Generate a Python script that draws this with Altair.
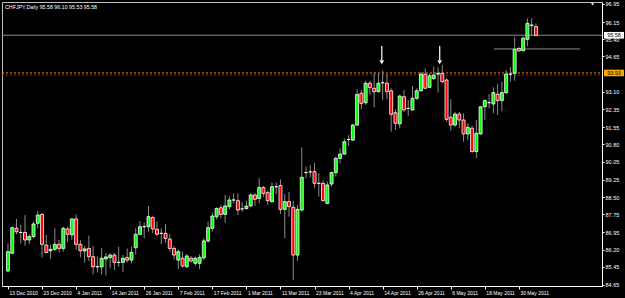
import json
import altair as alt
import pandas as pd

# ---------------- data ----------------
opens = [85.26, 86.04, 87.13, 86.95, 86.95, 86.62, 86.77, 87.35, 87.74, 86.40,
         86.15, 86.21, 86.43, 86.25, 87.10, 86.84, 87.54, 86.43, 86.14, 86.25,
         85.89, 85.45, 85.44, 85.79, 85.85, 85.96, 85.64, 85.64, 85.85, 85.74,
         86.28, 86.87, 87.20, 87.20, 87.60, 87.09, 86.91, 86.91, 86.66, 86.25,
         85.74, 85.82, 85.45, 85.82, 85.60, 85.60, 85.84, 86.58, 87.13, 87.64,
         88.03, 87.74, 88.08, 88.37, 88.34, 87.98, 87.99, 88.11, 88.59, 88.44,
         88.91, 88.69, 88.30, 88.95, 89.00, 87.96, 88.30, 88.05, 85.96, 87.93,
         89.57, 89.60, 89.61, 89.10, 89.10, 88.22, 89.07, 89.57, 90.19, 90.38,
         91.02, 90.99, 91.65, 93.04, 92.63, 93.48, 93.26, 93.11, 93.50, 93.48,
         93.15, 92.19, 91.70, 92.89, 92.38, 92.31, 92.82, 93.15, 93.87, 93.30,
         93.69, 93.88, 93.91, 93.62, 91.99, 91.65, 92.13, 91.87, 91.26, 91.51,
         90.49, 91.26, 92.45, 92.63, 92.57, 93.00, 92.72, 93.07, 93.88, 93.91,
         95.00, 94.90, 95.40, 96.03, 95.96]
highs = [86.47, 87.20, 87.54, 87.28, 87.71, 86.87, 87.42, 87.90, 87.79, 86.84,
         86.40, 87.13, 86.62, 87.20, 87.20, 87.57, 87.74, 86.62, 86.36, 86.81,
         86.36, 85.89, 86.28, 86.04, 86.04, 86.04, 86.33, 85.96, 86.25, 86.33,
         87.13, 87.45, 87.38, 88.11, 87.67, 87.42, 87.13, 87.32, 86.88, 86.36,
         86.21, 86.11, 86.00, 85.92, 85.90, 86.00, 86.70, 87.42, 87.82, 88.05,
         88.15, 88.59, 88.55, 88.66, 88.66, 88.27, 88.34, 88.66, 88.66, 89.32,
         88.99, 88.78, 89.13, 89.13, 89.27, 88.63, 88.73, 88.34, 88.15, 90.67,
         89.83, 89.90, 90.00, 89.54, 89.22, 89.17, 89.61, 90.27, 90.63, 91.06,
         91.21, 91.70, 93.21, 93.18, 93.59, 93.59, 93.94, 93.91, 94.03, 93.88,
         93.26, 92.34, 92.97, 93.18, 92.75, 93.36, 93.26, 93.98, 94.13, 93.91,
         94.21, 94.18, 94.28, 93.69, 92.78, 92.23, 92.23, 92.16, 91.73, 91.61,
         91.87, 92.48, 92.78, 93.01, 93.30, 93.45, 93.55, 94.06, 94.18, 95.49,
         95.08, 95.52, 96.32, 96.32, 96.10]
lows = [85.20, 86.01, 86.87, 86.47, 86.37, 86.43, 86.69, 87.13, 85.85, 86.04,
        85.79, 86.15, 86.07, 86.11, 86.52, 86.62, 86.18, 85.85, 85.63, 85.70,
        85.12, 85.20, 85.12, 85.06, 85.38, 85.31, 85.45, 85.23, 85.64, 85.60,
        85.99, 86.81, 86.69, 86.98, 86.91, 86.81, 86.44, 86.50, 86.11, 85.77,
        85.35, 85.42, 85.40, 85.63, 85.50, 85.35, 85.75, 86.50, 86.98, 87.52,
        87.57, 87.38, 87.96, 88.22, 87.71, 87.86, 87.96, 88.05, 88.11, 88.22,
        88.51, 88.15, 88.22, 88.63, 87.76, 86.69, 87.64, 84.87, 85.71, 87.86,
        89.32, 89.36, 88.88, 88.52, 88.30, 88.19, 88.95, 89.39, 89.98, 90.35,
        90.73, 90.96, 91.61, 92.34, 92.53, 92.97, 92.43, 93.07, 92.75, 92.78,
        91.36, 91.44, 91.51, 92.23, 92.05, 92.28, 92.75, 93.11, 93.21, 93.26,
        93.62, 93.07, 93.48, 91.80, 91.40, 91.58, 91.51, 90.92, 90.99, 90.44,
        90.20, 91.22, 91.87, 92.38, 92.16, 92.09, 92.25, 93.01, 93.55, 93.59,
        94.86, 94.90, 95.10, 95.55, 95.53]
closes = [86.11, 87.16, 86.98, 86.95, 86.62, 86.77, 87.32, 87.71, 86.43, 86.07,
          86.21, 86.43, 86.25, 87.13, 86.87, 87.54, 86.43, 86.15, 86.23, 85.89,
          85.45, 85.45, 85.82, 85.88, 85.96, 85.64, 85.64, 85.82, 85.74, 86.08,
          86.87, 87.20, 87.20, 87.64, 87.10, 86.87, 86.91, 86.69, 86.25, 85.96,
          86.11, 85.48, 85.92, 85.70, 85.82, 85.86, 86.58, 87.16, 87.67, 88.00,
          87.74, 88.11, 88.37, 88.37, 87.93, 87.98, 88.10, 88.59, 88.40, 88.92,
          88.66, 88.34, 88.95, 88.95, 87.96, 88.30, 88.08, 85.96, 87.96, 89.36,
          89.57, 89.60, 89.10, 89.10, 88.34, 89.03, 89.57, 90.19, 90.38, 90.92,
          91.02, 91.65, 92.99, 92.60, 93.48, 93.29, 93.11, 93.48, 93.50, 93.11,
          92.12, 91.73, 92.92, 92.31, 92.38, 92.82, 93.15, 93.88, 93.26, 93.80,
          93.84, 93.91, 93.55, 91.90, 91.65, 92.13, 91.87, 91.26, 91.55, 90.49,
          91.29, 92.45, 92.72, 92.63, 93.07, 92.72, 93.07, 93.88, 93.88, 94.96,
          94.90, 95.45, 96.10, 96.00, 95.58]

date_labels = ["13 Dec 2010", "23 Dec 2010", "4 Jan 2011", "14 Jan 2011",
               "26 Jan 2011", "7 Feb 2011", "17 Feb 2011", "1 Mar 2011",
               "11 Mar 2011", "23 Mar 2011", "4 Apr 2011", "14 Apr 2011",
               "26 Apr 2011", "6 May 2011", "18 May 2011", "30 May 2011"]
date_bars = [0, 8, 16, 24, 32, 40, 48, 56, 64, 72, 80, 88, 96, 104, 112, 120]
# the 93.85 tick label sits under the orange price box in the reference
price_ticks = [84.65, 85.45, 86.20, 86.95, 87.75, 88.50, 89.25, 90.05, 90.80,
               91.55, 92.35, 93.10, 94.65, 95.40, 96.15, 96.95]

title_text = "CHFJPY,Daily  95.58 96.10 95.53 95.58"

bid_price = 95.58
orange_level = 93.93
red_level = 93.83
seg_price = 94.98
seg_from, seg_to = 114.1, 134.4

arrow_bars = [87.8, 101.4]
arrow_top = [95.11, 95.11]
arrow_bottom = [94.50, 94.50]
arrow_head = [94.40, 94.40]

shift_marker_bar = [137.3]
shift_marker_price = [96.93]

# ---------------- build ----------------
n = len(opens)
df = pd.DataFrame({"bar": list(range(n)), "open": opens, "high": highs,
                   "low": lows, "close": closes})
df["dir"] = ["up" if c > o else ("down" if c < o else "flat")
             for o, c in zip(opens, closes)]

FONT = "Liberation Sans"
xscale = alt.Scale(domain=[-0.231, 138.34], nice=False, zero=False)
yscale = alt.Scale(domain=[84.606, 97.035], nice=False, zero=False)

label_array = json.dumps(date_labels)
xaxis = alt.Axis(values=date_bars, labelExpr=f"{label_array}[round(datum.value/8)]",
                 labelAlign="left", labelPadding=1, labelFontSize=5, labelColor="white",
                 labelFont=FONT, tickColor="white", tickSize=3, domainColor="white",
                 grid=False, title=None, labelFlush=False, labelOverlap=False,
                 labelOffset=1)
yaxis = alt.Axis(orient="right", values=price_ticks, format=".2f", labelFontSize=5.5,
                 labelColor="white", labelFont=FONT, tickColor="white", tickSize=2,
                 labelPadding=1, domainColor="white", grid=False, title=None,
                 labelOverlap=False, labelFlush=False)

X = alt.X("bar:Q", scale=xscale, axis=xaxis)


def Y(field):
    return alt.Y(f"{field}:Q", scale=yscale, axis=yaxis)


base = alt.Chart(df)

wicks = base.mark_rule(color="#8c8c8c", strokeWidth=1).encode(
    x=X, y=Y("low"), y2="high:Q")


def body_layer(kind, colour):
    return base.transform_filter(alt.datum.dir == kind).mark_bar(
        width=3, stroke="white", strokeWidth=0.8, fill=colour).encode(
        x=X, y=Y("open"), y2="close:Q")


bodies_up = body_layer("up", "#00ff00")
bodies_down = body_layer("down", "#ff0000")
bodies_flat = body_layer("flat", "#ffffff")


def hline(price, colour, dash=None):
    kw = dict(color=colour, strokeWidth=1)
    if dash:
        kw["strokeDash"] = dash
    return alt.Chart(pd.DataFrame({"price": [price]})).mark_rule(**kw).encode(
        x=alt.value(0), x2=alt.value(600), y=Y("price"))


bid_line = hline(bid_price, "#8a8a8a")
orange_line = hline(orange_level, "#ff8c00", [2, 2])
red_line = hline(red_level, "#e00000", [2, 2])

seg_df = pd.DataFrame({"price": [seg_price], "x1": [seg_from], "x2": [seg_to]})
segment = alt.Chart(seg_df).mark_rule(color="#8a8a8a", strokeWidth=1).encode(
    x=alt.X("x1:Q", scale=xscale, axis=xaxis), x2="x2:Q", y=Y("price"))

arr_df = pd.DataFrame({"bar": arrow_bars, "top": arrow_top, "bottom": arrow_bottom,
                       "head": arrow_head})
arrow_shaft = alt.Chart(arr_df).mark_rule(color="white", strokeWidth=1.2).encode(
    x=X, y=Y("top"), y2="bottom:Q")
arrow_tip = alt.Chart(arr_df).mark_point(shape="triangle-down", filled=True,
                                          color="white", size=22, opacity=1).encode(
    x=X, y=Y("head"))

shift_df = pd.DataFrame({"bar": shift_marker_bar, "price": shift_marker_price})
shift_marker = alt.Chart(shift_df).mark_point(shape="triangle-down", filled=True,
                                               color="#d0d0d0", size=10, opacity=1).encode(
    x=X, y=Y("price"))

box_shape = "M-1,-0.33L1,-0.33L1,0.33L-1,0.33Z"


def price_box(price, colour):
    d = pd.DataFrame({"price": [price], "label": [f"{price:.2f}"]})
    box = alt.Chart(d).mark_point(shape=box_shape, filled=True, size=400, opacity=1,
                                  strokeWidth=0, fill=colour).encode(
        x=alt.value(612), y=Y("price"))
    txt = alt.Chart(d).mark_text(fontSize=5.5, font=FONT, color="black",
                                 align="center", baseline="middle").encode(
        x=alt.value(612), y=Y("price"), text="label:N")
    return box + txt


bid_box = price_box(bid_price, "#ffffff")
orange_box = price_box(orange_level, "#ffa500")

title_df = pd.DataFrame({"t": [title_text]})
title = alt.Chart(title_df).mark_text(align="left", baseline="middle", fontSize=5.3,
                                       font=FONT, color="white").encode(
    x=alt.value(3), y=alt.value(5), text="t:N")

chart = alt.layer(
    orange_line, red_line, bid_line, segment, wicks,
    bodies_up, bodies_down, bodies_flat,
    arrow_shaft, arrow_tip, shift_marker, bid_box, orange_box, title
).properties(
    width=600, height=284,
    autosize=alt.AutoSizeParams(type="none"),
    padding={"left": 2, "top": 2, "right": 23, "bottom": 12},
    background="black",
).configure_view(stroke="#c0c0c0", strokeWidth=1, fill="black")

chart.save("out.html", embed_options={"renderer": "svg", "actions": False})
